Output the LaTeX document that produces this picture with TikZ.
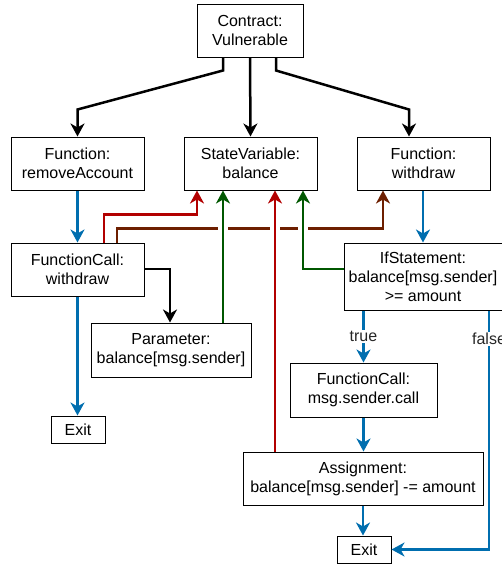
\documentclass[tikz,border=0pt]{standalone}
\usepackage{fontspec}
\setmainfont{Liberation Sans}
\usetikzlibrary{arrows.meta,calc}
\definecolor{cblue}{HTML}{006EAF}
\definecolor{cred}{HTML}{B20000}
\definecolor{cgreen}{HTML}{005700}
\definecolor{cbrown}{HTML}{6D1F00}
\begin{document}
\begin{tikzpicture}[x=1pt,y=-1pt,
 box/.style={draw, line width=1pt, fill=white, align=center, inner sep=0pt,
   font=\fontsize{16}{19.2}\selectfont},
 conn/.style={line width=2.5pt, -{Stealth[length=13pt,width=14pt,inset=4pt]}},
 kconn/.style={conn, black},
 bconn/.style={conn, cblue},
 rconn/.style={conn, cred},
 gconn/.style={conn, cgreen},
 brconn/.style={conn, cbrown},
 lbl/.style={fill=white, text=black!85, inner sep=1pt, font=\fontsize{16}{19.2}\selectfont}]
\useasboundingbox (0,0) rectangle (502,565);

\node[box, minimum width=106pt, minimum height=53pt] (contract) at (250,30.5) {Contract:\\Vulnerable};
\node[box, minimum width=133pt, minimum height=53pt] (fremove) at (77.5,163.5) {Function:\\removeAccount};
\node[box, minimum width=133pt, minimum height=53pt] (statevar) at (250.5,163.5) {StateVariable:\\balance};
\node[box, minimum width=133pt, minimum height=53pt] (fwithdraw) at (423.5,163.5) {Function:\\withdraw};
\node[box, minimum width=133pt, minimum height=53pt] (fcw) at (77.5,269.5) {FunctionCall:\\withdraw};
\node[box, minimum width=158pt, minimum height=67pt] (ifst) at (423,276.5) {IfStatement:\\balance[msg.sender]\\>= amount};
\node[box, minimum width=160pt, minimum height=54pt] (param) at (171,350) {Parameter:\\balance[msg.sender]};
\node[box, minimum width=54pt, minimum height=27pt] (exitA) at (78,429.5) {Exit};
\node[box, minimum width=147pt, minimum height=54pt] (fccall) at (363.5,390) {FunctionCall:\\msg.sender.call};
\node[box, minimum width=240pt, minimum height=53pt] (assign) at (363,478.5) {Assignment:\\balance[msg.sender] -= amount};
\node[box, minimum width=54pt, minimum height=27pt] (exitB) at (364,549.5) {Exit};

% contract children
\draw[kconn] ([xshift=-27pt]contract.south) -- ++(0,13) -- ($(fremove.north)+(0,-27)$) -- (fremove.north);
\draw[kconn] (contract.south) -- (statevar.north);
\draw[kconn] ([xshift=26pt]contract.south) -- ++(0,13) -- ($(fwithdraw.north)+(-14.5,-27)$) -- ($(fwithdraw.north)+(-14.5,0)$);

% control flow
\draw[bconn] (fremove.south) -- (fcw.north);
\draw[bconn] ([xshift=-0.5pt]fwithdraw.south) -- ([xshift=-0.5pt]fwithdraw.south |- ifst.north);
\draw[bconn] (fcw.south) -- (fcw.south |- exitA.north);
\draw[bconn] (fccall.north |- ifst.south) -- node[lbl]{true} (fccall.north);
\draw[bconn] (fccall.south) -- (fccall.south |- assign.north);
\draw[bconn] (assign.south) -- (assign.south |- exitB.north);
\draw[bconn] ([xshift=66pt]ifst.south) coordinate (fs) -- node[lbl, pos=0.12]{false} (fs |- exitB.east) -- (exitB.east);

% ast child
\draw[kconn] (fcw.east |- 0,269) -| ([xshift=-1pt]param.north);

% data dependencies
\draw[brconn] ([xshift=39.5pt]fcw.north) -- ++(0,-14) -| ([xshift=-40.5pt]fwithdraw.south);
\foreach \gx in {223,275,303} \draw[white, line width=4pt] (\gx-5,229) -- (\gx+5,229);
\draw[rconn] ([xshift=26.5pt]fcw.north) -- ++(0,-28) -| ([xshift=-53.5pt]statevar.south);
\draw[gconn] ([xshift=52pt]param.north) coordinate (g1) -- (g1 |- statevar.south);
\draw[rconn] ([xshift=-88pt]assign.north) coordinate (r1) -- (r1 |- statevar.south);
\draw[gconn] ([yshift=7.5pt]ifst.west) -| ([xshift=52.5pt]statevar.south);
\end{tikzpicture}
\end{document}
